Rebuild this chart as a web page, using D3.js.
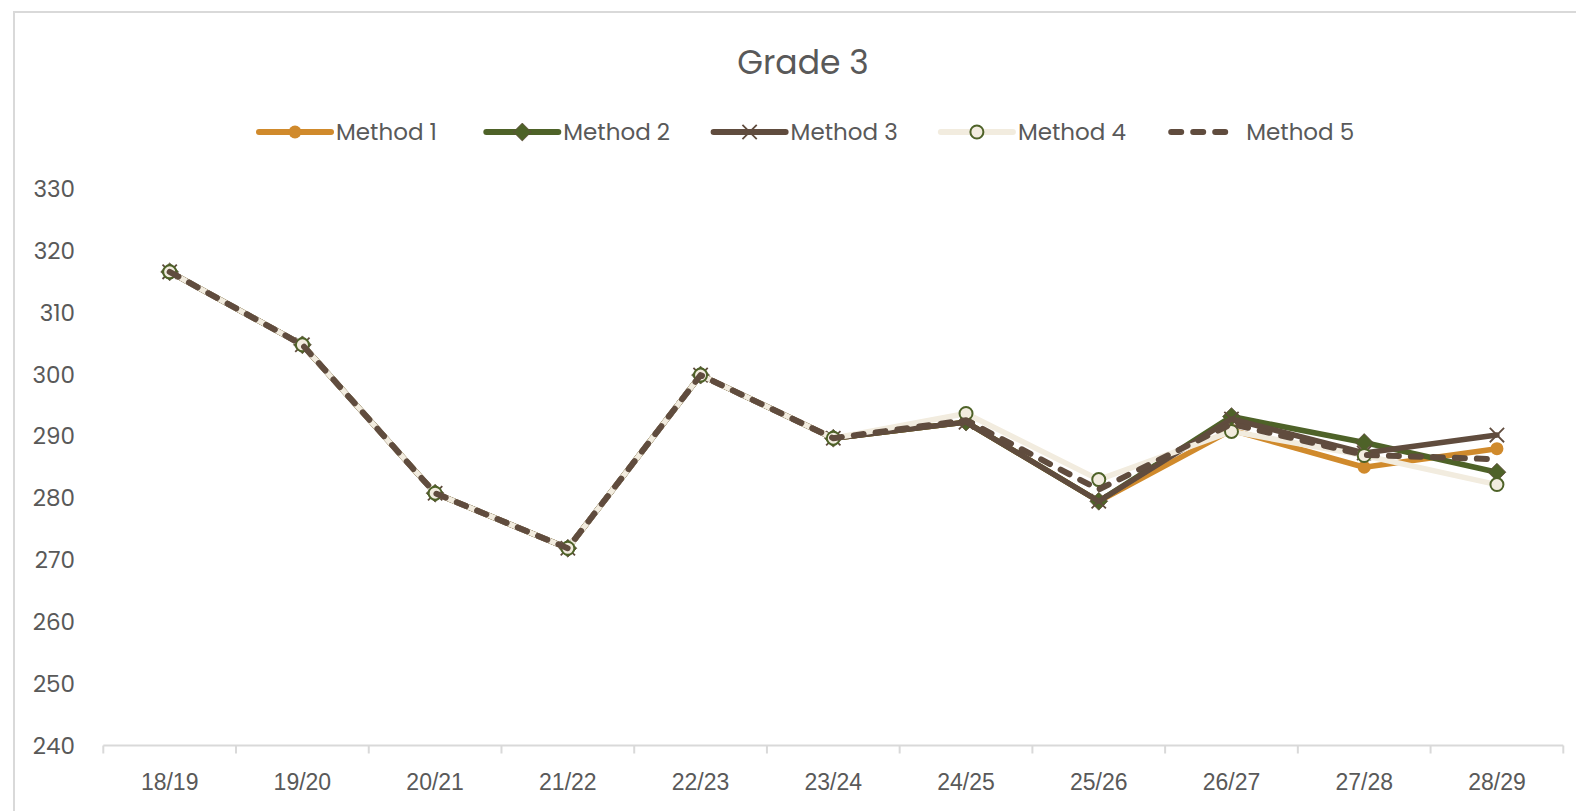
<!DOCTYPE html>
<html>
<head>
<meta charset="utf-8">
<script src="https://cdn.jsdelivr.net/npm/d3@7"></script>
<style>
  body { margin: 0; background: #fff; }
  svg { display: block; font-family: "Poppins", "Open Sans", sans-serif; }
</style>
</head>
<body>
<div id="display"></div>
<script>

const years = ["18/19", "19/20", "20/21", "21/22", "22/23", "23/24", "24/25", "25/26", "26/27", "27/28", "28/29"]
const method1 = [316.6, 304.8, 280.8, 271.9, 299.9, 289.7, 292.3, 279.5, 291.0, 285.0, 288.0]
const method2 = [316.6, 304.8, 280.8, 271.9, 299.9, 289.7, 292.3, 279.5, 293.2, 289.0, 284.2]
const method3 = [316.6, 304.8, 280.8, 271.9, 299.9, 289.7, 292.3, 279.5, 292.8, 287.3, 290.2]
const method4 = [316.6, 304.8, 280.8, 271.9, 299.9, 289.7, 293.7, 283.0, 290.8, 286.9, 282.2]
const method5 = [316.6, 304.8, 280.8, 271.9, 299.9, 289.7, 292.6, 281.4, 292.0, 287.0, 286.3]
const yTicks = [240, 250, 260, 270, 280, 290, 300, 310, 320, 330]

const series = [
  {name: "Method 1", values: method1, color: "#d08a2c", marker: "circle"},
  {name: "Method 2", values: method2, color: "#4e6228", marker: "diamond"},
  {name: "Method 3", values: method3, color: "#604c3e", marker: "cross"},
  {name: "Method 4", values: method4, color: "#f2ecdf", marker: "ring"},
  {name: "Method 5", values: method5, color: "#604c3e", marker: null, dash: "10 12"}
]

function chart(parentNode)
{
  let width = 1576
  let height = 811
  let textColor = "#595959"

  let x = d3.scaleBand(years, [103.3, 1563.3])
  let y = d3.scaleLinear([240, 330], [745.5, 189])

  const svg = d3.create("svg")
      .attr("width", width)
      .attr("height", height)
      .attr("viewBox", [0, 0, width, height])

  // chart frame (runs off the right and bottom edge)
  svg.append("rect")
      .attr("x", 14).attr("y", 12)
      .attr("width", width + 20).attr("height", height + 20)
      .attr("fill", "#fff")
      .attr("stroke", "#d9d9d9")
      .attr("stroke-width", 2)

  svg.append("text")
      .attr("x", 803).attr("y", 74)
      .attr("text-anchor", "middle")
      .attr("fill", textColor)
      .attr("font-size", 33)
      .text("Grade 3")

  // y labels, no axis line
  svg.append("g")
    .selectAll("text")
    .data(yTicks)
    .join("text")
      .attr("x", 75)
      .attr("y", d => y(d))
      .attr("dy", "0.35em")
      .attr("text-anchor", "end")
      .attr("fill", textColor)
      .attr("font-size", 23)
      .text(d => d)

  // x axis: labels from band scale, ticks between categories
  svg.append("g")
      .attr("transform", `translate(0,${y(240)})`)
      .call(d3.axisBottom(x).tickSize(0).tickPadding(28))
      .call(g => g.select(".domain").remove())
      .call(g => g.selectAll("text")
          .attr("fill", textColor)
          .attr("font-size", 23)
          .attr("font-family", "inherit"))

  const bounds = years.map(d => x(d)).concat([x(years[years.length - 1]) + x.bandwidth()])
  const axisG = svg.append("g").attr("stroke", "#d9d9d9").attr("stroke-width", 2)
  axisG.append("line")
      .attr("x1", bounds[0]).attr("x2", bounds[bounds.length - 1])
      .attr("y1", y(240)).attr("y2", y(240))
  axisG.selectAll(".tick")
    .data(bounds)
    .join("line")
      .attr("x1", d => d).attr("x2", d => d)
      .attr("y1", y(240)).attr("y2", y(240) + 8)

  const cx = d => x(d) + x.bandwidth() / 2

  function drawMarker(g, type, color, size) {
    if (type === "circle") {
      g.append("circle").attr("r", size).attr("fill", color)
    } else if (type === "diamond") {
      g.append("path")
          .attr("d", d3.symbol(d3.symbolDiamond2, size * size * 4.8)())
          .attr("fill", color)
          .attr("stroke", "#604c3e").attr("stroke-width", 0.8)
    } else if (type === "cross") {
      g.append("path")
          .attr("d", d3.symbol(d3.symbolTimes, size * size * 3.2)())
          .attr("fill", "none")
          .attr("stroke", color)
          .attr("stroke-width", 1.8)
    } else if (type === "ring") {
      g.append("circle").attr("r", size)
          .attr("fill", "#f2ecdf")
          .attr("stroke", "#4e6228").attr("stroke-width", 2)
    }
  }

  const line = d3.line()
      .x((d, i) => cx(years[i]))
      .y(d => y(d))

  series.forEach(s => {
    const g = svg.append("g")
    g.append("path")
        .attr("d", line(s.values))
        .attr("fill", "none")
        .attr("stroke", s.color)
        .attr("stroke-width", s.dash ? 6 : 5.5)
        .attr("stroke-linejoin", "round")
        .attr("stroke-linecap", "round")
        .attr("stroke-dasharray", s.dash || null)
    if (s.marker) {
      s.values.forEach((v, i) => {
        const m = g.append("g").attr("transform", `translate(${cx(years[i])},${y(v)})`)
        drawMarker(m, s.marker, s.color, 6.5)
      })
    }
  })

  // legend
  const legend = svg.append("g")
    .selectAll("g")
    .data(series)
    .join("g")
      .attr("transform", (d, i) => `translate(${259 + i * 227.3},132)`)

  legend.append("line")
      .attr("x1", d => d.dash ? 3 : 0)
      .attr("x2", d => d.dash ? 66 : 72)
      .attr("stroke", d => d.color)
      .attr("stroke-width", 6)
      .attr("stroke-linecap", "round")
      .attr("stroke-dasharray", d => d.dash || null)

  legend.each(function(d) {
    if (d.marker) {
      const m = d3.select(this).append("g").attr("transform", "translate(36,0)")
      drawMarker(m, d.marker, d.color, 6.5)
    }
  })

  legend.append("text")
      .attr("x", d => d.dash ? 78 : 77)
      .attr("dy", "0.35em")
      .attr("fill", textColor)
      .attr("font-size", 23)
      .text(d => d.name)

  parentNode.appendChild(svg.node())
}

document.addEventListener("DOMContentLoaded", () => {
  chart(document.getElementById("display"))
})
</script>
</body>
</html>
